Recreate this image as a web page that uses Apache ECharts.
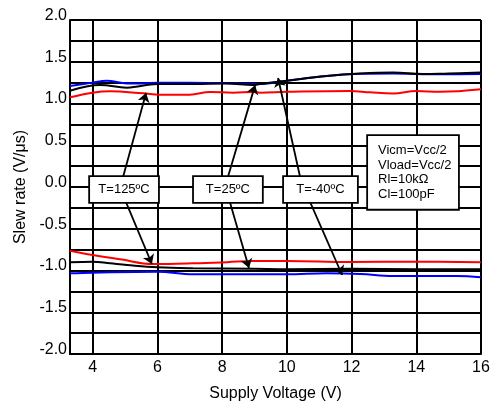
<!DOCTYPE html>
<html>
<head>
<meta charset="utf-8">
<script src="https://cdn.jsdelivr.net/npm/echarts@6/dist/echarts.min.js"></script>
<style>html,body{margin:0;padding:0;background:#fff}#c{width:496px;height:408px}</style>
</head>
<body>
<div id="c"></div>
<script>
// ---- data ----
const xTicks = [4, 6, 8, 10, 12, 14, 16];

const blueTopX = [3.3, 4.0, 4.43, 5.06, 5.5, 6.0, 7.0, 8.0, 8.96, 9.17, 10.0, 11.23, 12.27, 13.28, 14.2, 15.0, 16.0];
const blueTopY = [1.21, 1.25, 1.273, 1.24, 1.24, 1.25, 1.25, 1.245, 1.235, 1.233, 1.273, 1.33, 1.355, 1.36, 1.35, 1.35, 1.353];
const blackTopX = [3.3, 4.23, 5.06, 6.0, 7.1, 8.15, 8.96, 9.17, 10.0, 11.23, 12.27, 13.28, 14.2, 15.0, 16.0];
const blackTopY = [1.153, 1.222, 1.19, 1.233, 1.233, 1.24, 1.222, 1.233, 1.273, 1.33, 1.36, 1.372, 1.352, 1.36, 1.37];
const redTopX = [3.3, 4.0, 4.54, 5.56, 6.08, 7.0, 7.63, 8.34, 8.96, 9.17, 10.0, 11.95, 12.57, 13.28, 14.0, 14.73, 16.0];
const redTopY = [1.074, 1.13, 1.146, 1.122, 1.106, 1.106, 1.138, 1.13, 1.138, 1.13, 1.14, 1.15, 1.134, 1.12, 1.15, 1.14, 1.17];

const redBotX = [3.3, 4.0, 4.85, 5.87, 7.1, 8.15, 8.96, 10.0, 11.95, 14.0, 16.0];
const redBotY = [-0.763, -0.814, -0.866, -0.922, -0.914, -0.90, -0.886, -0.886, -0.898, -0.894, -0.90];
const blackBotX = [3.3, 4.0, 4.54, 5.06, 6.0, 7.1, 8.96, 10.0, 12.0, 14.0, 16.0];
const blackBotY = [-0.90, -0.894, -0.914, -0.934, -0.962, -0.974, -0.98, -0.986, -0.98, -0.986, -0.986];
const blueBotX = [3.3, 4.0, 6.0, 7.1, 8.96, 10.0, 11.23, 12.27, 13.28, 14.0, 15.25, 16.0];
const blueBotY = [-1.034, -1.026, -1.014, -1.046, -1.046, -1.046, -1.034, -1.042, -1.066, -1.066, -1.066, -1.082];

// annotation boxes (data coordinates)
const boxText = ['T=125ºC', 'T=25ºC', 'T=-40ºC'];
const boxX = [4.97, 8.18, 11.04];
const boxY = [-0.03, -0.03, -0.03];
const noteText = ['Vicm=Vcc/2', 'Vload=Vcc/2', 'Rl=10kΩ', 'Cl=100pF'];
const noteX = [13.9];
const noteY = [0.174];

// arrows: from (x,y) to (x,y)
const arrowFromX = [4.94, 5.03, 8.18, 8.24, 10.41, 10.72];
const arrowFromY = [0.12, -0.18, 0.12, -0.18, 0.12, -0.18];
const arrowToX = [5.65, 5.83, 9.02, 8.83, 9.73, 11.71];
const arrowToY = [1.126, -0.922, 1.22, -0.97, 1.305, -1.054];

// ---- build ----
const zip = (xs, ys) => xs.map((x, i) => [x, ys[i]]);
const FONT = 'Liberation Sans, Arial, sans-serif';
const boxWidths = [52, 52, 57];

function lineSeries(name, xs, ys, color) {
  return {
    name, type: 'line', data: zip(xs, ys), smooth: 0.4, symbol: 'none',
    lineStyle: { color, width: 2 }, z: 3, animation: false
  };
}

const arrowData = arrowFromX.map((fx, i) => ({
  coords: [[fx, arrowFromY[i]], [arrowToX[i], arrowToY[i]]]
}));

const boxData = boxText.map((t, i) => ({
  value: [boxX[i], boxY[i]],
  label: { formatter: t, width: boxWidths[i] }
}));

const noteData = noteX.map((x, i) => ({
  value: [x, noteY[i]],
  label: { formatter: noteText.join('\n') }
}));

const chart = echarts.init(document.getElementById('c'), null, { renderer: 'canvas' });
chart.setOption({
  animation: false,
  backgroundColor: '#fff',
  grid: { left: 70, right: 15, top: 20, bottom: 54 },
  xAxis: {
    type: 'value', min: 3.3, max: 16,
    name: 'Supply Voltage (V)', nameLocation: 'middle', nameGap: 32,
    nameTextStyle: { fontFamily: FONT, fontSize: 16, color: '#000' },
    axisLine: { show: true, onZero: false, lineStyle: { color: '#000', width: 2 } },
    axisTick: { show: false, customValues: xTicks },
    axisLabel: { customValues: xTicks, fontFamily: FONT, fontSize: 16, color: '#000', margin: 6 },
    splitLine: { show: true, lineStyle: { color: '#000', width: 2 } }
  },
  yAxis: {
    type: 'value', min: -2, max: 2, interval: 0.25,
    name: 'Slew rate (V/μs)', nameLocation: 'middle', nameGap: 40,
    nameTextStyle: { fontFamily: FONT, fontSize: 16, color: '#000' },
    axisLine: { show: true, onZero: false, lineStyle: { color: '#000', width: 2 } },
    axisTick: { show: false },
    axisLabel: {
      fontFamily: FONT, fontSize: 16, color: '#000', margin: 3,
      verticalAlign: 'bottom', lineHeight: 9,
      formatter: v => (Math.abs(v * 2 - Math.round(v * 2)) < 1e-6 ? v.toFixed(1) : '')
    },
    splitLine: { show: true, lineStyle: { color: '#000', width: 2 } }
  },
  series: [
    lineSeries('red+', redTopX, redTopY, '#ff0000'),
    lineSeries('blue+', blueTopX, blueTopY, '#0000ff'),
    lineSeries('black+', blackTopX, blackTopY, '#000000'),
    lineSeries('red-', redBotX, redBotY, '#ff0000'),
    lineSeries('black-', blackBotX, blackBotY, '#000000'),
    lineSeries('blue-', blueBotX, blueBotY, '#0000ff'),
    {
      name: 'arrows', type: 'lines', coordinateSystem: 'cartesian2d', z: 4,
      silent: true, animation: false,
      symbol: ['none', 'arrow'], symbolSize: 9,
      lineStyle: { color: '#000', width: 1.8, opacity: 1, curveness: 0 },
      data: arrowData
    },
    {
      name: 'boxes', type: 'scatter', data: boxData, symbolSize: 1, z: 5,
      itemStyle: { opacity: 1, color: '#fff' },
      emphasis: { disabled: true },
      label: {
        show: true, position: 'inside', align: 'center', verticalAlign: 'middle',
        fontFamily: FONT, fontSize: 13, color: '#000', lineHeight: 15,
        backgroundColor: '#fff', borderColor: '#000', borderWidth: 1.8,
        padding: [5, 8]
      }
    },
    {
      name: 'note', type: 'scatter', data: noteData, symbolSize: 1, z: 5,
      itemStyle: { opacity: 1, color: '#fff' },
      emphasis: { disabled: true },
      label: {
        show: true, position: 'inside', align: 'left', verticalAlign: 'middle',
        offset: [-45, 0], width: 70,
        fontFamily: FONT, fontSize: 13, color: '#000', lineHeight: 14.7,
        backgroundColor: '#fff', borderColor: '#000', borderWidth: 1.8,
        padding: [7, 10, 7, 10]
      }
    }
  ]
});
</script>
</body>
</html>
